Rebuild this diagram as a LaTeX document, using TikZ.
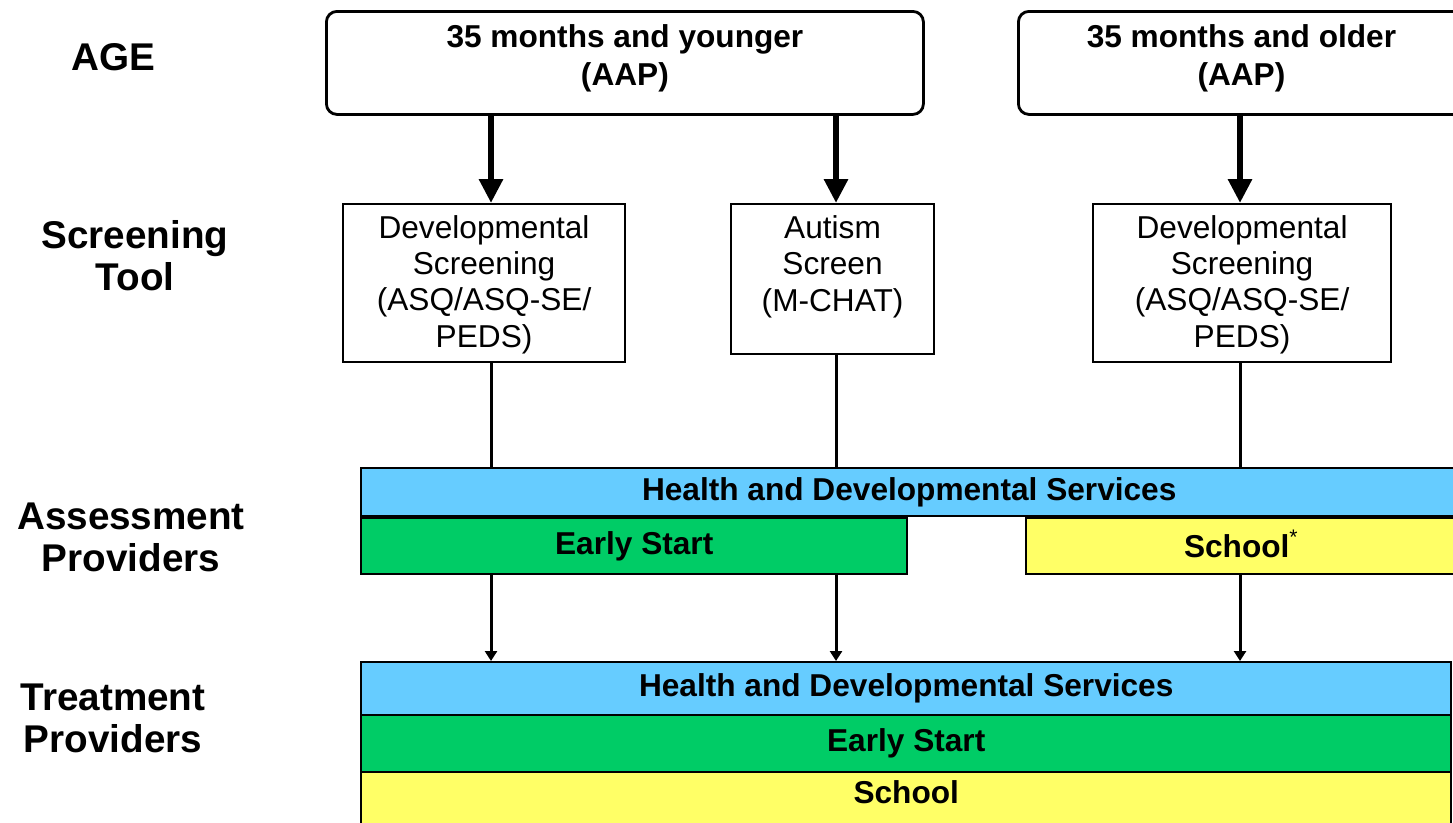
\documentclass[tikz,border=0pt]{standalone}
\usepackage{fontspec}
\setmainfont{Liberation Sans}
\usetikzlibrary{arrows.meta,positioning}
\definecolor{hdsblue}{HTML}{66CCFF}
\definecolor{esgreen}{HTML}{00CC66}
\definecolor{schyellow}{HTML}{FFFF66}

\begin{document}
\begin{tikzpicture}[>=latex, font=\fontsize{9}{10.3}\selectfont,
    agebox/.style={draw, line width=0.8pt, rounded corners=3pt, anchor=north west,
        minimum height=1.03cm, align=center, inner sep=0pt,
        text height=0.74cm, text depth=0.29cm,
        font=\fontsize{9}{10.8}\selectfont\bfseries},
    toolbox/.style={draw, line width=0.6pt, anchor=north west, align=center, inner sep=0pt},
    bar/.style={draw, line width=0.7pt, anchor=north west, inner sep=0pt,
        font=\fontsize{9}{10.8}\selectfont\bfseries},
    sidelabel/.style={align=center, font=\fontsize{11}{12}\selectfont\bfseries},
    bigarrow/.style={-{Triangle[length=0.24cm,width=0.23cm]}, line width=1.7pt},
    smallarrow/.style={-{Triangle[length=0.1cm,width=0.12cm]}, line width=0.85pt}]

    \useasboundingbox (0,0) rectangle (14.53,-8.22);
    \clip (0,0) rectangle (14.53,-8.22);

    \coordinate (x1) at ( 4.91,0);
    \coordinate (x2) at ( 8.36,0);
    \coordinate (x3) at (12.40,0);

    % left column
    \node[sidelabel] (lage)    at (1.13,-0.57) {AGE};
    \node[sidelabel] (ltool)   at (1.35,-2.56) {Screening\\Tool};
    \node[sidelabel] (lassess) at (1.31,-5.37) {Assessment\\Providers};
    \node[sidelabel] (ltreat)  at (1.13,-7.18) {Treatment\\Providers};

    % age
    \node[agebox, minimum width=5.97cm] (age1) at ( 3.25,-0.10) {35 months and younger\\(AAP)};
    \node[agebox, minimum width=4.46cm] (age2) at (10.17,-0.10) {35 months and older\\(AAP)};

    % screening tools
    \node[toolbox, minimum width=2.82cm, text height=1.43cm, text depth=0.15cm] (sd1) at ( 3.42,-2.03)
        {Developmental\\Screening\\(ASQ/ASQ-SE/\\PEDS)};
    \node[toolbox, minimum width=2.03cm, text height=1.07cm, text depth=0.43cm] (sa)  at ( 7.30,-2.03)
        {Autism\\Screen\\(M-CHAT)};
    \node[toolbox, minimum width=2.98cm, text height=1.43cm, text depth=0.15cm] (sd2) at (10.92,-2.03)
        {Developmental\\Screening\\(ASQ/ASQ-SE/\\PEDS)};

    % assessment providers
    \node[bar, fill=hdsblue,   minimum width=10.96cm, minimum height=0.48cm] (ahds) at ( 3.60,-4.67) {Health and Developmental Services};
    \node[bar, fill=esgreen,   minimum width=5.46cm,  minimum height=0.56cm] (aes)  at ( 3.60,-5.17) {Early Start};
    \node[bar, fill=schyellow, minimum width=4.31cm,  minimum height=0.56cm] (asch) at (10.25,-5.17) {School\smash{\textsuperscript{\mdseries*}}};

    % treatment providers
    \node[bar, fill=hdsblue,   minimum width=10.90cm, minimum height=0.53cm] (thds) at (3.60,-6.61) {Health and Developmental Services};
    \node[bar, fill=esgreen,   minimum width=10.90cm, minimum height=0.57cm] (tes)  at (3.60,-7.14) {Early Start};
    \node[bar, fill=schyellow, minimum width=10.90cm, text height=0.31cm, text depth=0.36cm] (tsch) at (3.60,-7.71) {School};

    % connectors
    \draw[bigarrow] (age1.south -| x1) -- (sd1.north -| x1);
    \draw[bigarrow] (age1.south -| x2) -- (sa.north -| x2);
    \draw[bigarrow] (age2.south -| x3) -- (sd2.north -| x3);

    \draw[line width=0.85pt] (sd1.south -| x1) -- (ahds.north -| x1);
    \draw[line width=0.85pt] (sa.south -| x2)  -- (ahds.north -| x2);
    \draw[line width=0.85pt] (sd2.south -| x3) -- (ahds.north -| x3);

    \draw[smallarrow] (aes.south -| x1)  -- (thds.north -| x1);
    \draw[smallarrow] (aes.south -| x2)  -- (thds.north -| x2);
    \draw[smallarrow] (asch.south -| x3) -- (thds.north -| x3);

\end{tikzpicture}
\end{document}
